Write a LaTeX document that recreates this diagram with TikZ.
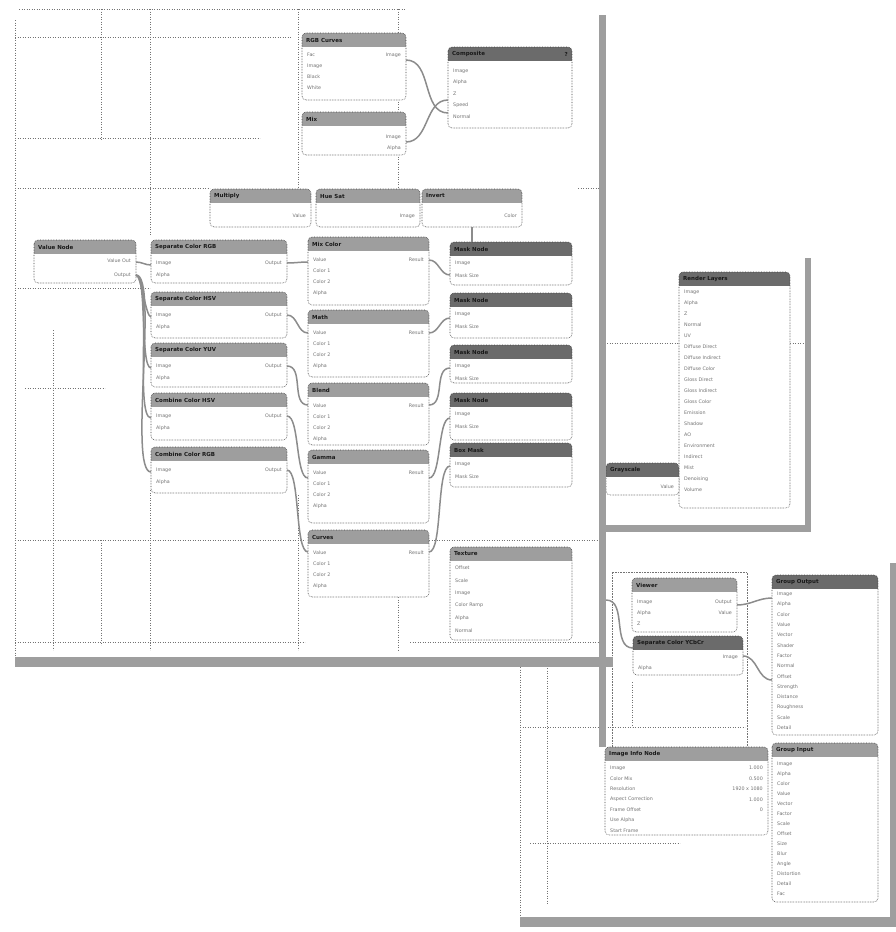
\documentclass[tikz,border=0pt]{standalone}
\usepackage{fontspec}
\setmainfont{DejaVu Sans}
\usepackage{tikz}

\tikzset{
  nbody/.style={rectangle, inner sep=0pt, outer sep=0pt, anchor=north west},
  nedge/.style={draw=black!75, densely dotted, line width=0.6pt},
  nhead/.style={fill=black!38},
  nheaddark/.style={fill=black!58},
  ntitle/.style={font=\fontsize{5.5}{6}\selectfont\bfseries, text=black!90, inner sep=0pt},
  nrow/.style={font=\fontsize{4.8}{5}\selectfont, text=black!55, inner sep=0pt},
  link/.style={draw=black!45, line width=1.5pt},
  gridline/.style={draw=black!55, dotted, line width=0.5pt},
  winbar/.style={fill=black!38},
}

\newcommand\nbox[7][nhead]{%
  \node[nbody, minimum width=#5pt, minimum height=#6pt] (#2) at (#3,#4) {};
  \fill[white, rounded corners=4pt] (#2.north west) rectangle (#2.south east);
  \begin{scope}
    \clip[rounded corners=4pt] (#2.north west) rectangle (#2.south east);
    \fill[#1] (#2.north west) rectangle ([yshift=-14pt]#2.north east);
  \end{scope}
  \draw[nedge, rounded corners=4pt] (#2.north west) rectangle (#2.south east);
  \node[ntitle, anchor=west] at ([xshift=4pt, yshift=-7pt]#2.north west) {#7};
}
\newcommand\lrows[4]{%
  \foreach \lbl [count=\k] in {#4}{%
    \pgfmathsetmacro\yy{-(#2)-(#3)*(\k-1)}%
    \node[nrow, anchor=west] at ([xshift=5pt, yshift=\yy pt]#1.north west) {\lbl};}}
\newcommand\rrows[4]{%
  \foreach \lbl [count=\k] in {#4}{%
    \pgfmathsetmacro\yy{-(#2)-(#3)*(\k-1)}%
    \node[nrow, anchor=east] at ([xshift=-5pt, yshift=\yy pt]#1.north east) {\lbl};}}

\begin{document}
\begin{tikzpicture}[x=1pt, y=-1pt]
  \fill[white] (0,0) rectangle (896,932);
  \useasboundingbox (0,0) rectangle (896,932);

  % grid, first window
  \draw[gridline] (15,20) -- (15,657);
  \draw[gridline] (19,9) -- (405,9);
  \draw[gridline] (15,37) -- (291,37);
  \draw[gridline] (15,138) -- (260,138);
  \draw[gridline] (15,188) -- (210,188);
  \draw[gridline] (578,188) -- (599,188);
  \draw[gridline] (15,288) -- (150,288);
  \draw[gridline] (25,388) -- (105,388);
  \draw[gridline] (15,540) -- (305,540);
  \draw[gridline] (429,540) -- (599,540);
  \draw[gridline] (15,642) -- (305,642);
  \draw[gridline] (410,642) -- (599,642);
  \draw[gridline] (101,9) -- (101,140);
  \draw[gridline] (101,540) -- (101,645);
  \draw[gridline] (150,9) -- (150,235);
  \draw[gridline] (150,490) -- (150,650);
  \draw[gridline] (298,9) -- (298,188);
  \draw[gridline] (298,495) -- (298,650);
  \draw[gridline] (398,9) -- (398,188);
  \draw[gridline] (398,597) -- (398,650);
  \draw[gridline] (53,330) -- (53,650);
  % grid, other windows
  \draw[gridline] (607,343) -- (679,343);
  \draw[gridline] (790,343) -- (805,343);
  \draw[gridline] (520,667) -- (520,920);
  \draw[gridline] (547,663) -- (547,905);
  \draw[gridline] (520,727) -- (745,727);
  \draw[gridline] (632,682) -- (632,727);
  \draw[gridline] (530,843) -- (680,843);

  % nodes, first window
  \nbox{rgbc}{302}{33}{104}{67}{RGB Curves}
  \nbox{mixn}{302}{112}{104}{43}{Mix}
  \nbox[nheaddark]{comp}{448}{47}{124}{81}{Composite}
  \nbox{mult}{210}{189}{101}{38}{Multiply}
  \nbox{hues}{316}{189}{104}{38}{Hue Sat}
  \nbox{invt}{422}{189}{100}{38}{Invert}
  \nbox{valn}{34}{240}{102}{43}{Value Node}
  \nbox{sepr}{151}{240}{136}{43}{Separate Color RGB}
  \nbox{seph}{151}{292}{136}{46}{Separate Color HSV}
  \nbox{sepy}{151}{343}{136}{44}{Separate Color YUV}
  \nbox{comh}{151}{393}{136}{47}{Combine Color HSV}
  \nbox{comr}{151}{447}{136}{46}{Combine Color RGB}
  \nbox{mixc}{308}{237}{121}{68}{Mix Color}
  \nbox{math}{308}{310}{121}{67}{Math}
  \nbox{blnd}{308}{383}{121}{62}{Blend}
  \nbox{gamm}{308}{450}{121}{73}{Gamma}
  \nbox{curv}{308}{530}{121}{67}{Curves}
  \nbox[nheaddark]{mska}{450}{242}{122}{43}{Mask Node}
  \nbox[nheaddark]{mskb}{450}{293}{122}{45}{Mask Node}
  \nbox[nheaddark]{mskc}{450}{345}{122}{38}{Mask Node}
  \nbox[nheaddark]{mskd}{450}{393}{122}{47}{Mask Node}
  \nbox[nheaddark]{mske}{450}{443}{122}{44}{Box Mask}
  \nbox{text}{450}{547}{122}{93}{Texture}

  \node[ntitle, anchor=east] at ([xshift=-4pt, yshift=-7pt]comp.north east) {?};
  \lrows{rgbc}{22}{11}{Fac,Image,Black,White}
  \rrows{rgbc}{22}{11}{Image}
  \rrows{mixn}{25}{11}{Image,Alpha}
  \lrows{comp}{24}{11.5}{Image,Alpha,Z,Speed,Normal}
  \rrows{mult}{27}{11}{Value}
  \rrows{hues}{27}{11}{Image}
  \rrows{invt}{27}{11}{Color}
  \rrows{valn}{21}{14}{Value Out,Output}
  \foreach \n in {sepr,seph,sepy,comh,comr}{
    \lrows{\n}{23}{12}{Image,Alpha}
    \rrows{\n}{23}{12}{Output}
  }
  \foreach \n in {mixc,math,blnd,gamm,curv}{
    \lrows{\n}{23}{11}{Value,Color 1,Color 2,Alpha}
    \rrows{\n}{23}{11}{Result}
  }
  \foreach \n in {mska,mskb,mskc,mskd,mske}{
    \lrows{\n}{21}{13}{Image,Mask Size}
  }
  \lrows{text}{21}{12.5}{Offset,Scale,Image,Color Ramp,Alpha,Normal}

  % nodes, second window
  \nbox[nheaddark]{rlay}{679}{272}{111}{236}{Render Layers}
  \lrows{rlay}{20}{11}{Image,Alpha,Z,Normal,UV,Diffuse Direct,Diffuse Indirect,Diffuse Color,Gloss Direct,Gloss Indirect,Gloss Color,Emission,Shadow,AO,Environment,Indirect,Mist,Denoising,Volume}
  \nbox[nheaddark]{gray}{606}{463}{73}{32}{Grayscale}
  \rrows{gray}{24}{11}{Value}

  % nodes, third window
  \node[nbody, minimum width=135pt, minimum height=175pt, nedge, draw=black!55] (frm) at (612,572) {};
  \nbox{view}{632}{578}{105}{54}{Viewer}
  \lrows{view}{24}{11}{Image,Alpha,Z}
  \rrows{view}{24}{11}{Output,Value}
  \nbox[nheaddark]{sepx}{633}{636}{110}{39}{Separate Color YCbCr}
  \rrows{sepx}{21}{11}{Image}
  \lrows{sepx}{32}{11}{Alpha}
  \nbox[nheaddark]{gout}{772}{575}{106}{160}{Group Output}
  \lrows{gout}{19}{10.3}{Image,Alpha,Color,Value,Vector,Shader,Factor,Normal,Offset,Strength,Distance,Roughness,Scale,Detail}
  \nbox{ginp}{772}{743}{106}{159}{Group Input}
  \lrows{ginp}{21}{10}{Image,Alpha,Color,Value,Vector,Factor,Scale,Offset,Size,Blur,Angle,Distortion,Detail,Fac}
  \nbox{info}{605}{747}{163}{88}{Image Info Node}
  \lrows{info}{21}{10.5}{Image,Color Mix,Resolution,Aspect Correction,Frame Offset,Use Alpha,Start Frame}
  \rrows{info}{21}{10.5}{1.000,0.500,1920 x 1080,1.000,0}

  % links
  \draw[link] ([yshift=-27pt]rgbc.north east) to[out=0, in=180] ([yshift=-66pt]comp.north west);
  \draw[link] ([yshift=-30pt]mixn.north east) to[out=0, in=180] ([yshift=-53pt]comp.north west);
  \draw[link] (invt.south) to[out=-90, in=90] (invt.south |- mska.north);
  \draw[link] ([yshift=-22pt]valn.north east) to[out=0, in=180] ([yshift=-25pt]sepr.north west);
  \foreach \n in {seph,sepy,comh,comr}
    \draw[link] ([yshift=-35pt]valn.north east) to[out=0, in=180, looseness=0.3] ([yshift=-25pt]\n.north west);
  \draw[link] ([yshift=-23pt]sepr.north east) to[out=0, in=180] ([yshift=-25pt]mixc.north west);
  \draw[link] ([yshift=-23pt]seph.north east) to[out=0, in=180] ([yshift=-23pt]math.north west);
  \draw[link] ([yshift=-23pt]sepy.north east) to[out=0, in=180] ([yshift=-22pt]blnd.north west);
  \draw[link] ([yshift=-23pt]comh.north east) to[out=0, in=180, looseness=0.5] ([yshift=-28pt]gamm.north west);
  \draw[link] ([yshift=-23pt]comr.north east) to[out=0, in=180, looseness=0.4] ([yshift=-22pt]curv.north west);
  \draw[link] ([yshift=-23pt]mixc.north east) to[out=0, in=180] ([yshift=-33pt]mska.north west);
  \draw[link] ([yshift=-23pt]math.north east) to[out=0, in=180] ([yshift=-25pt]mskb.north west);
  \draw[link] ([yshift=-22pt]blnd.north east) to[out=0, in=180] ([yshift=-23pt]mskc.north west);
  \draw[link] ([yshift=-28pt]gamm.north east) to[out=0, in=180, looseness=0.5] ([yshift=-25pt]mskd.north west);
  \draw[link] ([yshift=-22pt]curv.north east) to[out=0, in=180, looseness=0.4] ([yshift=-23pt]mske.north west);
  \draw[link] ([yshift=-27pt]view.north east) to[out=0, in=180] ([yshift=-23pt]gout.north west);
  \draw[link] ([yshift=-20pt]sepx.north east) to[out=0, in=180] ([yshift=-105pt]gout.north west);
  \coordinate (barp) at (606,600);
  \draw[link] (barp) to[out=0, in=180] ([yshift=-12pt]sepx.north west);

  % window frames
  \fill[winbar] (599,15) rectangle (606,747);
  \fill[winbar] (15,657) rectangle (613,667);
  \fill[winbar] (805,258) rectangle (811,532);
  \fill[winbar] (606,525) rectangle (811,532);
  \fill[winbar] (520,917) rectangle (896,927);
  \fill[winbar] (890,563) rectangle (896,927);
\end{tikzpicture}
\end{document}
